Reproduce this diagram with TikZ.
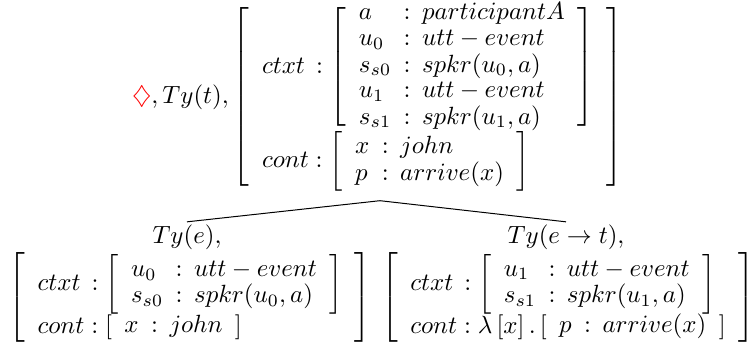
\documentclass[tikz,border=0pt]{standalone}
\usepackage{amssymb}
\usepackage{xcolor}
\newcommand{\rec}[1]{\left[\begin{array}{l@{\hspace{5pt}{:}\hspace{4.6pt}}l}#1\end{array}\right]}
\newcommand{\orec}[1]{\left[\begin{array}{l}#1\end{array}\right]}
\renewcommand{\arraystretch}{0.86}
\begin{document}
\begin{tikzpicture}[x=0.4016pt,y=-0.4016pt,
  treenode/.style={inner sep=0pt, outer sep=0pt},
  typelabel/.style={inner sep=1.4pt, outer sep=0pt},
  branch/.style={line width=0.4pt, black}]
\useasboundingbox (0,0) rectangle (754,347);
\node[treenode, anchor=north west] (root) at (132,2) {$\textcolor{red}{\diamondsuit}, Ty(t), \orec{ctxt\,: \rec{a & participantA\\ u_0 & utt-event\\ s_{s0} & spkr(u_0,a)\\ u_1 & utt-event\\ s_{s1} & spkr(u_1,a)}\\ cont: \rec{x & john\\ p & arrive(x)}}$};
\node[typelabel, anchor=base] (ltype) at (187,244) {$Ty(e),$};
\node[treenode, anchor=north] (lrec) at (190,253) {$\orec{ctxt\,: \rec{u_0 & utt-event\\ s_{s0} & spkr(u_0,a)}\\ cont: \rec{x & john}}$};
\node[typelabel, anchor=base] (rtype) at (566,244) {$Ty(e\rightarrow t),$};
\node[treenode, anchor=north] (rrec) at (568,253) {$\orec{ctxt\,: \rec{u_1 & utt-event\\ s_{s1} & spkr(u_1,a)}\\ cont: \lambda\left[x\right].\rec{p & arrive(x)}}$};
\coordinate (apex) at (380,200.7);
\draw[branch] (apex) -- (ltype.north);
\draw[branch] (apex) -- (rtype.north);
\end{tikzpicture}
\end{document}
